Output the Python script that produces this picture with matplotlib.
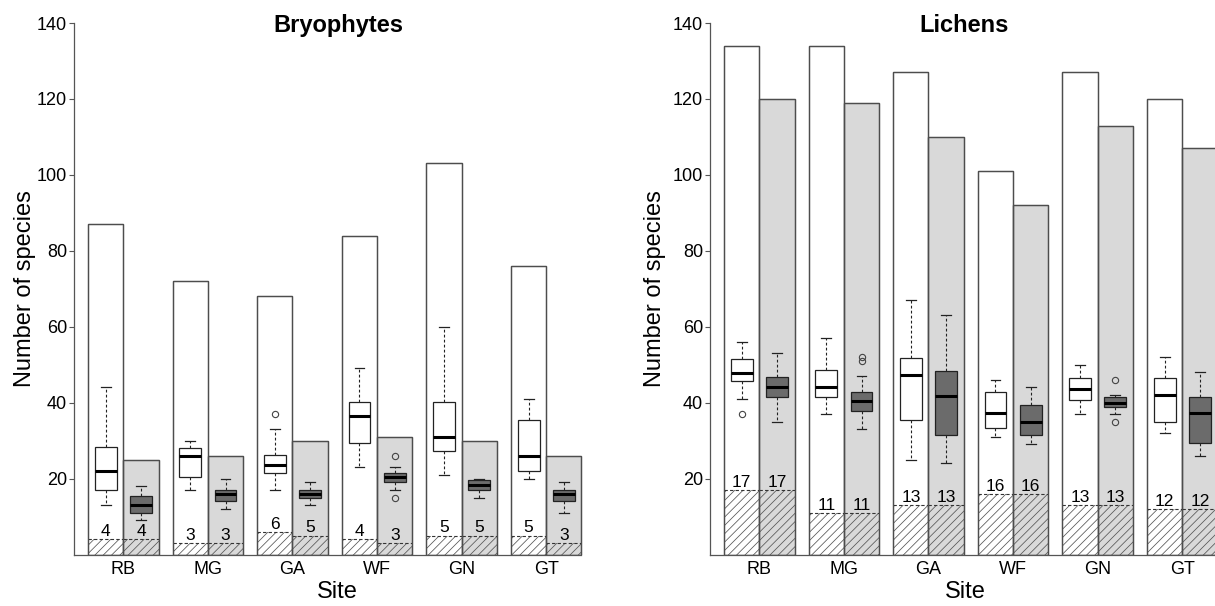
import matplotlib
matplotlib.use("Agg")
import matplotlib.pyplot as plt
import matplotlib.transforms as mtransforms

plt.rcParams['font.family'] = ['Liberation Sans', 'DejaVu Sans']
plt.rcParams['hatch.linewidth'] = 0.55

sites = ["RB", "MG", "GA", "WF", "GN", "GT"]
yticks = [20, 40, 60, 80, 100, 120, 140]

# ---------------- Bryophytes ----------------
bryo_total_white = [87, 72, 68, 84, 103, 76]
bryo_total_grey = [25, 26, 30, 31, 30, 26]
bryo_shared_white = [4, 3, 6, 4, 5, 5]
bryo_shared_grey = [4, 3, 5, 3, 5, 3]
# (whisker low, q1, median, q3, whisker high)
bryo_box_white = [(13, 16.9, 22, 28.3, 44), (17, 20.3, 26, 28, 30),
                  (17, 21.5, 23.5, 26.3, 33), (23, 29.3, 36.4, 40.2, 49),
                  (21, 27.3, 31, 40.3, 60), (20, 22, 26, 35.3, 41)]
bryo_box_grey = [(9, 10.9, 13, 15.5, 18), (12, 14, 16, 17, 20),
                 (13, 15, 16, 16.9, 19), (17, 19, 20.5, 21.5, 23),
                 (15, 16.9, 18.3, 19.6, 20), (11, 14, 16, 17, 19)]
bryo_fliers_white = [[], [], [37], [], [], []]
bryo_fliers_grey = [[], [], [], [26, 15], [], []]

# ---------------- Lichens ----------------
lich_total_white = [134, 134, 127, 101, 127, 120]
lich_total_grey = [120, 119, 110, 92, 113, 107]
lich_shared_white = [17, 11, 13, 16, 13, 12]
lich_shared_grey = [17, 11, 13, 16, 13, 12]
lich_box_white = [(41, 45.7, 47.8, 51.4, 56), (37, 41.4, 44.1, 48.5, 57),
                  (25, 35.3, 47.4, 51.8, 67), (31, 33.4, 37.3, 42.9, 46),
                  (37, 40.8, 43.5, 46.4, 50), (32, 34.8, 41.9, 46.4, 52)]
lich_box_grey = [(35, 41.4, 44.1, 46.8, 53), (33, 37.8, 40.5, 42.9, 47),
                 (24, 31.4, 41.8, 48.4, 63), (29, 31.4, 34.9, 39.5, 44),
                 (37, 38.9, 40, 41.4, 42), (26, 29.3, 37.3, 41.4, 48)]
lich_fliers_white = [[37], [], [], [], [], []]
lich_fliers_grey = [[], [51, 52], [], [], [46, 35], []]

FIG_W, FIG_H = 1215, 606
PX_PER_UNIT = 35.24
XMAX = 14.7
AX_BOTTOM_PX = 554.5
AX_TOP_PX = 23.0

EDGE = "#4d4d4d"
LIGHT = "#d9d9d9"
DARKBOX = "#6b6b6b"

fig = plt.figure(figsize=(FIG_W / 100, FIG_H / 100), dpi=100)
fig.patch.set_facecolor("white")


def make_panel(left_px, title, title_x, label_x, ylab_x,
               tot_w, tot_g, sh_w, sh_g, box_w, box_g, fl_w, fl_g):
    ax = fig.add_axes([left_px / FIG_W, (FIG_H - AX_BOTTOM_PX) / FIG_H,
                       XMAX * PX_PER_UNIT / FIG_W,
                       (AX_BOTTOM_PX - AX_TOP_PX) / FIG_H])
    ax.set_xlim(0, XMAX)
    ax.set_ylim(0, 140)
    n = len(sites)
    xw = [0.4 + 2.4 * i + 0.5 for i in range(n)]
    xg = [0.4 + 2.4 * i + 1.5 for i in range(n)]
    # total bars
    ax.bar(xw, tot_w, width=1.0, color="white", edgecolor=EDGE, linewidth=0.9, zorder=1)
    ax.bar(xg, tot_g, width=1.0, color=LIGHT, edgecolor=EDGE, linewidth=0.9, zorder=1)
    # hatched shared portion
    ax.bar(xw, sh_w, width=1.0, color="none", edgecolor="#555555", hatch="////",
           linewidth=0, zorder=2)
    ax.bar(xg, sh_g, width=1.0, color="none", edgecolor="#555555", hatch="////",
           linewidth=0, zorder=2)
    ax.hlines(sh_w, [x - 0.5 for x in xw], [x + 0.5 for x in xw], colors="#333333",
              linestyles=(0, (3, 2)), linewidth=0.8, zorder=3)
    ax.hlines(sh_g, [x - 0.5 for x in xg], [x + 0.5 for x in xg], colors="#333333",
              linestyles=(0, (3, 2)), linewidth=0.8, zorder=3)
    # re-draw bar outlines on top of hatch
    ax.bar(xw, tot_w, width=1.0, color="none", edgecolor=EDGE, linewidth=0.9, zorder=3)
    ax.bar(xg, tot_g, width=1.0, color="none", edgecolor=EDGE, linewidth=0.9, zorder=3)

    def stats(boxes, fliers):
        out = []
        for (lo, q1, md, q3, hi), fl in zip(boxes, fliers):
            out.append(dict(whislo=lo, q1=q1, med=md, q3=q3, whishi=hi, fliers=fl))
        return out

    common = dict(widths=0.62, showcaps=True, capwidths=0.28, patch_artist=True,
                  manage_ticks=False, zorder=4,
                  whiskerprops=dict(color="#222222", linestyle=(0, (2.5, 2)), linewidth=0.8),
                  capprops=dict(color="#222222", linewidth=0.9),
                  medianprops=dict(color="black", linewidth=2.2, solid_capstyle="butt"),
                  flierprops=dict(marker="o", markersize=4.5, markerfacecolor="none",
                                  markeredgecolor="#444444", markeredgewidth=0.8))
    ax.bxp(stats(box_w, fl_w), positions=xw,
           boxprops=dict(facecolor="white", edgecolor="#222222", linewidth=0.9), **common)
    ax.bxp(stats(box_g, fl_g), positions=xg,
           boxprops=dict(facecolor=DARKBOX, edgecolor="#222222", linewidth=0.9), **common)

    # numbers above hatched part
    for x, v in zip(xw, sh_w):
        ax.text(x, v + 0.8, str(v), ha="center", va="baseline", fontsize=12.5, zorder=5)
    for x, v in zip(xg, sh_g):
        ax.text(x, v + 0.8, str(v), ha="center", va="baseline", fontsize=12.5, zorder=5)

    # axes styling
    for s in ("top", "right"):
        ax.spines[s].set_visible(False)
    ax.spines["left"].set_bounds(0, 140)
    ax.spines["bottom"].set_bounds(0, 0.4 + 2.4 * (n - 1) + 2.0)
    for s in ("left", "bottom"):
        ax.spines[s].set_color("#555555")
        ax.spines[s].set_linewidth(0.9)
    ax.set_yticks(yticks)
    ax.set_yticklabels([str(t) for t in yticks], fontsize=13)
    ax.tick_params(axis="y", direction="out", length=3.5, width=0.8, color="#555555", pad=1.5)
    ax.set_xticks([0.4 + 2.4 * i + 1.0 for i in range(n)])
    ax.set_xticklabels(sites, fontsize=13)
    ax.tick_params(axis="x", length=0, pad=5)
    ax.patch.set_alpha(0)

    trans = mtransforms.blended_transform_factory(ax.transData, ax.transAxes)
    ax_h = AX_BOTTOM_PX - AX_TOP_PX
    ax.text(title_x, 1 - 9 / ax_h, title, transform=trans, ha="center", va="baseline",
            fontsize=17, fontweight="bold")
    ax.text(label_x, -38 / ax_h, "Site", transform=trans,
            ha="center", va="center", fontsize=17)
    ax.text(ylab_x, 0.5, "Number of species", transform=ax.transAxes, rotation=90,
            ha="center", va="center", fontsize=17)
    return ax


make_panel(74, "Bryophytes", 7.49, 7.46, -49 / (XMAX * PX_PER_UNIT),
           bryo_total_white, bryo_total_grey, bryo_shared_white, bryo_shared_grey,
           bryo_box_white, bryo_box_grey, bryo_fliers_white, bryo_fliers_grey)
make_panel(710, "Lichens", 7.21, 7.24, -55 / (XMAX * PX_PER_UNIT),
           lich_total_white, lich_total_grey, lich_shared_white, lich_shared_grey,
           lich_box_white, lich_box_grey, lich_fliers_white, lich_fliers_grey)

fig.savefig("out.png", dpi=100, facecolor="white")
